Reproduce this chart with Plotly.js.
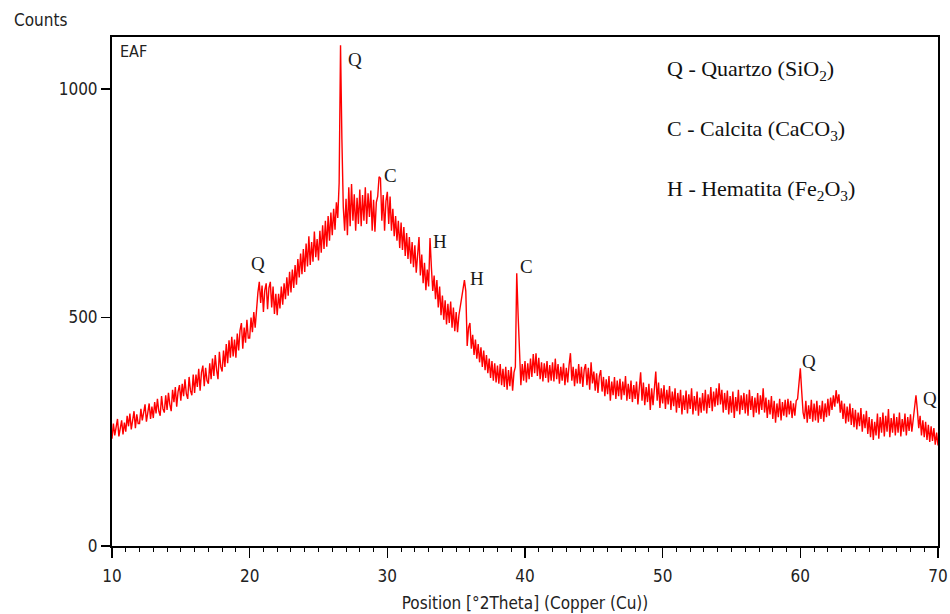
<!DOCTYPE html>
<html>
<head>
<meta charset="utf-8">
<script src="https://cdn.plot.ly/plotly-3.0.1.min.js"></script>
<style>
html,body{margin:0;padding:0;background:#fff;}
#chart{width:950px;height:614px;}
</style>
</head>
<body>
<div id="chart"></div>
<script>
// Scan start and step (°2Theta)
const thetaStart = 10.0;
const thetaStep = 0.1;

// Counts, one row per degree (10.0 ... 69.9), then 70.0
const counts = [
  235,268,242,262,278,240,258,275,244,270,
  250,285,262,290,255,278,295,258,288,268,
  268,300,275,292,310,272,298,312,278,305,
  280,315,290,322,295,285,328,300,292,330,
  298,335,310,295,342,315,348,305,338,352,
  318,355,328,365,333,322,370,340,330,375,
  335,375,348,388,340,380,395,350,390,362,
  355,400,365,410,372,418,385,365,425,392,
  382,428,392,442,400,450,412,458,415,452,
  412,465,428,472,488,432,478,445,495,455,
  455,500,468,512,478,528,555,578,532,570,
  512,560,575,518,565,578,522,568,508,552,
  505,552,520,568,528,575,540,588,548,600,
  555,605,565,615,572,628,588,640,595,650,
  600,662,612,678,615,665,622,688,632,672,
  625,690,642,702,650,712,655,722,668,730,
  680,738,692,752,718,795,1096,890,742,690,
  760,680,785,700,792,712,770,690,762,705,
  780,700,768,712,785,705,772,720,778,690,
  758,688,752,765,808,805,712,768,690,755,
  775,705,765,690,738,678,722,668,712,652,
  708,648,698,635,685,628,676,618,665,610,
  658,598,648,676,592,638,575,620,560,605,
  568,674,610,558,592,540,582,522,568,505,
  548,495,538,485,530,488,535,478,522,470,
  512,468,505,525,548,565,582,558,438,478,
  488,432,462,418,452,410,442,402,435,392,
  428,385,418,378,410,368,405,362,400,358,
  395,355,398,352,388,348,392,342,385,350,
  392,340,380,392,597,505,420,352,398,362,
  405,358,400,365,410,370,420,378,422,372,
  412,365,402,360,400,368,405,358,396,362,
  402,360,410,365,398,355,392,362,400,352,
  390,358,396,422,362,392,350,388,356,398,
  355,392,348,386,398,352,390,342,402,356,
  382,340,378,335,372,385,338,370,328,365,
  332,372,318,360,330,370,322,362,328,366,
  320,360,330,372,318,355,322,362,315,352,
  322,360,310,352,380,318,358,308,348,315,
  355,298,345,308,352,382,318,358,302,345,
  312,352,300,342,310,350,298,338,306,345,
  292,335,302,342,288,330,298,340,290,332,
  300,345,288,328,296,338,285,325,292,335,
  296,342,290,332,302,348,295,338,305,345,
  308,356,310,342,292,335,298,340,288,328,
  292,338,280,326,295,342,288,330,298,335,
  290,332,285,342,298,328,282,325,292,335,
  288,330,298,345,292,325,280,320,288,328,
  278,318,270,312,282,322,275,315,285,320,
  282,322,288,318,280,312,285,318,322,350,
  389,338,292,278,318,270,308,278,320,272,
  312,275,318,270,308,278,318,272,312,282,
  322,285,325,298,330,305,341,312,332,292,
  318,278,312,268,305,272,312,265,302,260,
  298,255,292,262,302,250,288,258,296,245,
  282,238,278,232,272,242,290,235,282,248,
  292,240,285,250,300,238,280,248,290,242,
  282,248,292,240,278,250,290,242,282,252,
  288,250,282,302,330,298,258,285,242,275,
  238,272,232,265,228,262,230,258,222,248,
  220
];

// Peak labels (phase letter) and where they sit (°2Theta, counts)
const peakLetters = ['Q','Q','C','H','H','C','Q','Q'];
const peakLabelTheta = [20.62, 27.67, 30.22, 33.82, 36.50, 40.10, 60.62, 69.42];
const peakLabelCounts = [618, 1064, 810, 666, 585, 611, 403, 323];

// Phase key
const keyLines = [
  'Q - Quartzo (SiO<sub>2</sub>)',
  'C - Calcita (CaCO<sub>3</sub>)',
  'H - Hematita (Fe<sub>2</sub>O<sub>3</sub>)'
];
const keyCounts = [1041, 910, 779];
const keyTheta = 50.2;

const xTickVals = [10,20,30,40,50,60,70];
const yTickVals = [0,500,1000];

const theta = counts.map((_, i) => Math.round((thetaStart + i*thetaStep)*10)/10);

const sans = '"DejaVu Sans Condensed", "DejaVu Sans", sans-serif';
const serif = '"Liberation Serif", "DejaVu Serif", serif';

const trace = {
  x: theta, y: counts, type: 'scatter', mode: 'lines',
  line: {color: '#ff0000', width: 1.4},
  hoverinfo: 'skip'
};

const annotations = [];
peakLetters.forEach((t, i) => {
  annotations.push({
    x: peakLabelTheta[i], y: peakLabelCounts[i], xref: 'x', yref: 'y',
    text: t, showarrow: false, xanchor: 'center', yanchor: 'middle',
    font: {family: serif, size: 19, color: '#1a1a1a'}
  });
});
keyLines.forEach((t, i) => {
  annotations.push({
    x: keyTheta, y: keyCounts[i], xref: 'x', yref: 'y',
    text: t, showarrow: false, xanchor: 'left', yanchor: 'middle',
    font: {family: serif, size: 22, color: '#111'}
  });
});
annotations.push({
  x: 10.4, y: 1083, xref: 'x', yref: 'y', text: 'EAF', showarrow: false,
  xanchor: 'left', yanchor: 'middle', font: {family: sans, size: 16, color: '#222'}
});
annotations.push({
  x: (12 - 112) / 826, y: (546 - 20) / 509, xref: 'paper', yref: 'paper',
  text: 'Counts', showarrow: false, xanchor: 'left', yanchor: 'middle',
  font: {family: sans, size: 17, color: '#222'}
});

const layout = {
  width: 950, height: 614,
  margin: {l: 112, r: 12, t: 37, b: 68},
  paper_bgcolor: '#fff', plot_bgcolor: '#fff',
  showlegend: false,
  xaxis: {
    range: [10, 70], tickvals: xTickVals, ticktext: xTickVals.map(String),
    ticks: 'outside', ticklen: 10, tickwidth: 1.3, tickcolor: '#000',
    minor: {dtick: 1, tick0: 10, ticks: 'outside', ticklen: 4, tickwidth: 1, tickcolor: '#000'},
    showline: true, linecolor: '#000', linewidth: 2, mirror: true,
    showgrid: false, zeroline: false,
    ticklabelstandoff: 4,
    tickfont: {family: sans, size: 17, color: '#222'},
    title: {text: 'Position [°2Theta] (Copper (Cu))', font: {family: sans, size: 17, color: '#222'}, standoff: 12}
  },
  yaxis: {
    range: [0, 1114], tickvals: yTickVals, ticktext: yTickVals.map(String),
    ticks: 'outside', ticklen: 9, tickwidth: 1.3, tickcolor: '#000',
    showline: true, linecolor: '#000', linewidth: 2, mirror: true,
    showgrid: false, zeroline: false,
    tickfont: {family: sans, size: 17, color: '#222'}
  },
  annotations: annotations
};

Plotly.newPlot('chart', [trace], layout, {displayModeBar: false, staticPlot: true});
</script>
</body>
</html>
